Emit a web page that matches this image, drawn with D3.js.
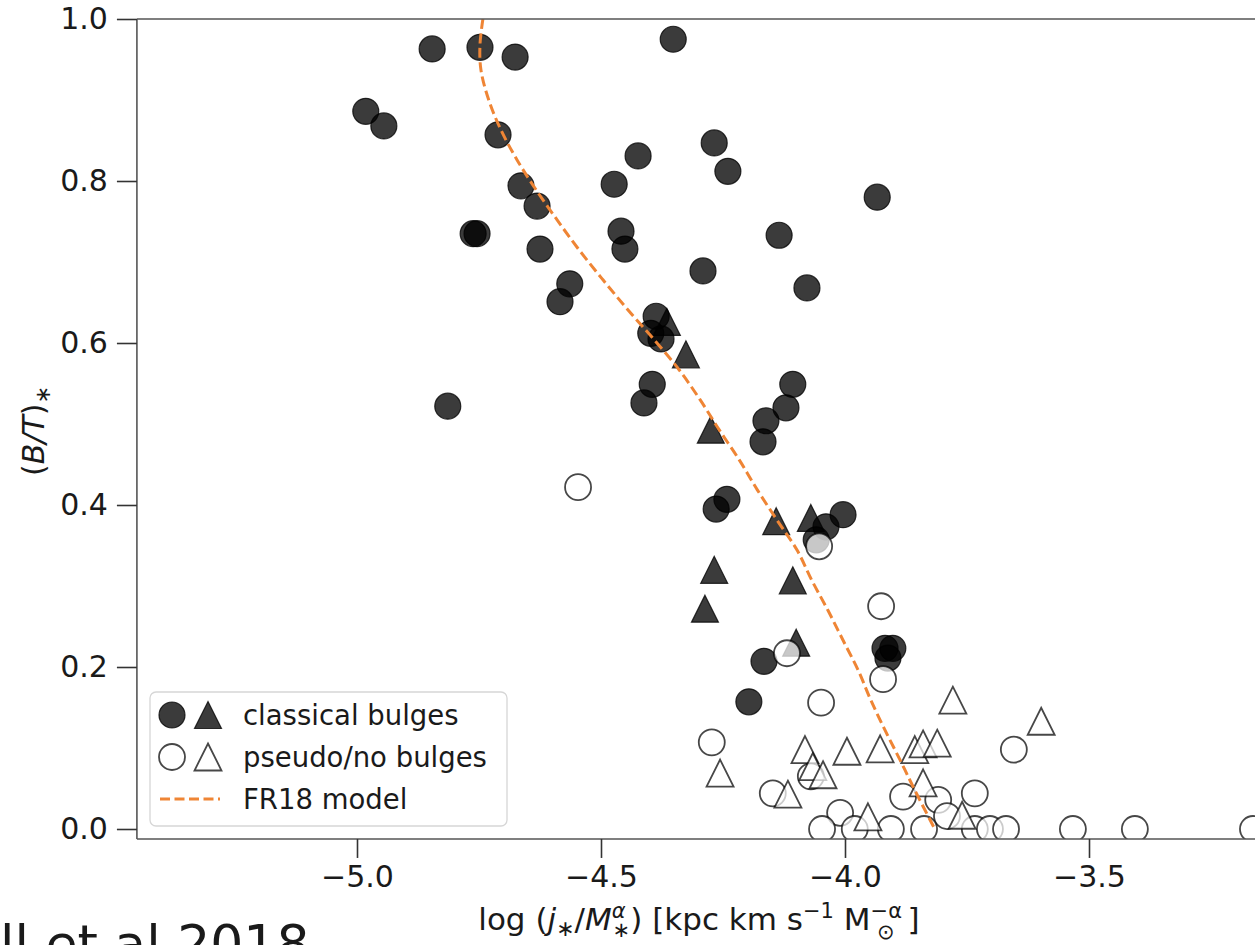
<!DOCTYPE html>
<html>
<head>
<meta charset="utf-8">
<script src="https://cdn.jsdelivr.net/npm/d3@7"></script>
<style>
  body { margin: 0; background: #fff; }
  svg { display: block; }
  text { font-family: "DejaVu Sans", sans-serif; fill: #1a1a1a; }
</style>
</head>
<body>
<svg id="chart" width="1255" height="945"></svg>
<script>
// classical bulges (filled)
const classicalCircX = [-4.982, -4.945, -4.846, -4.748, -4.676, -4.352, -4.711, -4.268, -4.424, -4.240,
  -4.473, -4.664, -4.631, -4.762, -4.754, -4.459, -4.451, -4.135, -4.625, -4.291,
  -4.564, -4.584, -4.078, -3.934, -4.814, -4.387, -4.398, -4.377, -4.395, -4.412,
  -4.107, -4.121, -4.162, -4.168, -4.242, -4.264, -4.004, -4.039, -4.059, -4.166,
  -3.918, -3.902, -3.912, -4.197];
const classicalCircY = [0.886, 0.868, 0.963, 0.965, 0.953, 0.975, 0.857, 0.847, 0.831, 0.812,
  0.796, 0.794, 0.769, 0.735, 0.735, 0.738, 0.716, 0.733, 0.716, 0.689,
  0.673, 0.651, 0.668, 0.780, 0.522, 0.633, 0.612, 0.605, 0.549, 0.526,
  0.549, 0.520, 0.504, 0.478, 0.407, 0.395, 0.388, 0.373, 0.357, 0.207,
  0.223, 0.223, 0.211, 0.157];
const classicalTriX = [-4.365, -4.326, -4.275, -4.141, -4.070, -4.268, -4.107, -4.287, -4.100];
const classicalTriY = [0.626, 0.586, 0.493, 0.380, 0.384, 0.320, 0.307, 0.272, 0.230];

// pseudo / no bulges (open)
const pseudoCircX = [-4.547, -3.926, -3.922, -4.049, -4.273, -3.654, -4.070, -4.148, -3.881, -3.809,
  -3.734, -4.010, -3.791, -4.119, -4.053, -4.047, -3.980, -3.906, -3.838, -3.734,
  -3.703, -3.670, -3.533, -3.406, -3.164];
const pseudoCircY = [0.422, 0.275, 0.185, 0.156, 0.107, 0.098, 0.065, 0.044, 0.040, 0.036,
  0.044, 0.020, 0.016, 0.217, 0.349, 0.0, 0.0, 0.0, 0.0, 0.0,
  0.0, 0.0, 0.0, 0.0, 0.0];
const pseudoTriX = [-4.256, -4.082, -3.996, -3.928, -3.857, -3.840, -3.811, -4.066, -4.045, -4.117,
  -3.840, -3.953, -3.760, -3.779, -3.598];
const pseudoTriY = [0.069, 0.098, 0.096, 0.099, 0.098, 0.105, 0.106, 0.077, 0.067, 0.043,
  0.057, 0.015, 0.017, 0.159, 0.133];

// FR18 model curve
const modelX = [-4.742, -4.748, -4.746, -4.730, -4.705, -4.672, -4.633, -4.590, -4.545, -4.496,
  -4.445, -4.391, -4.340, -4.297, -4.258, -4.217, -4.180, -4.139, -4.098, -4.068,
  -4.035, -4.004, -3.973, -3.947, -3.918, -3.887, -3.857, -3.816];
const modelY = [1.0, 0.968, 0.937, 0.900, 0.863, 0.826, 0.789, 0.752, 0.715, 0.678,
  0.641, 0.604, 0.567, 0.530, 0.493, 0.456, 0.419, 0.381, 0.344, 0.307,
  0.270, 0.233, 0.196, 0.159, 0.122, 0.085, 0.048, 0.0];

const xTicks = [-5.0, -4.5, -4.0, -3.5];
const yTicks = [0.0, 0.2, 0.4, 0.6, 0.8, 1.0];
const legendLabels = ["classical bulges", "pseudo/no bulges", "FR18 model"];

const svg = d3.select("#chart");
const W = 1255;

const x = d3.scaleLinear().domain([-5.0, -3.5]).range([357, 1089]);
const y = d3.scaleLinear().domain([0, 1]).range([829, 19]);
const xMin = -5.451, xMax = -3.0, yMin = -0.0123, yMax = 1.0;
const pLeft = x(xMin), pRight = x(xMax), pTop = y(yMax), pBottom = y(yMin);

svg.append("defs").append("clipPath").attr("id", "plotclip")
  .append("rect").attr("x", pLeft).attr("y", pTop)
  .attr("width", pRight - pLeft).attr("height", pBottom - pTop);

const tri = s => `M0,${-s}L${s},${s}L${-s},${s}Z`;
const R = 13, S = 13.5;

const plot = svg.append("g").attr("clip-path", "url(#plotclip)");

function filled(sel) {
  return sel.attr("fill", "#000").attr("fill-opacity", 0.77)
    .attr("stroke", "#000").attr("stroke-opacity", 0.77).attr("stroke-width", 1.2);
}
function open(sel) {
  return sel.attr("fill", "#fff").attr("fill-opacity", 0.72)
    .attr("stroke", "#000").attr("stroke-opacity", 0.72).attr("stroke-width", 1.8);
}

filled(plot.append("g").selectAll("circle").data(classicalCircX).join("circle")
  .attr("cx", d => x(d)).attr("cy", (d, i) => y(classicalCircY[i])).attr("r", R));
filled(plot.append("g").selectAll("path").data(classicalTriX).join("path")
  .attr("transform", (d, i) => `translate(${x(d)},${y(classicalTriY[i])})`).attr("d", tri(S)));
open(plot.append("g").selectAll("circle").data(pseudoCircX).join("circle")
  .attr("cx", d => x(d)).attr("cy", (d, i) => y(pseudoCircY[i])).attr("r", R));
open(plot.append("g").selectAll("path").data(pseudoTriX).join("path")
  .attr("transform", (d, i) => `translate(${x(d)},${y(pseudoTriY[i])})`).attr("d", tri(S)));

const line = d3.line().x(d => x(d[0])).y(d => y(d[1])).curve(d3.curveCatmullRom);
plot.append("path")
  .attr("d", line(modelX.map((v, i) => [v, modelY[i]])))
  .attr("fill", "none").attr("stroke", "#ef8535").attr("stroke-width", 3)
  .attr("stroke-dasharray", "10,4.5");

// spines
const spine = svg.append("g").attr("stroke", "#555").attr("stroke-width", 1.6).attr("fill", "none");
spine.append("line").attr("x1", pLeft).attr("x2", pLeft).attr("y1", pTop).attr("y2", pBottom);
spine.append("line").attr("x1", pLeft).attr("x2", W).attr("y1", pTop).attr("y2", pTop);
spine.append("line").attr("x1", pLeft).attr("x2", W).attr("y1", pBottom).attr("y2", pBottom);

// axes
const fmt = d3.format(".1f");
const xAxis = svg.append("g").attr("transform", `translate(0,${pBottom})`)
  .call(d3.axisBottom(x).tickValues(xTicks).tickSize(19).tickPadding(8).tickFormat(fmt));
const yAxis = svg.append("g").attr("transform", `translate(${pLeft},0)`)
  .call(d3.axisLeft(y).tickValues(yTicks).tickSize(20).tickPadding(9).tickFormat(fmt));
[xAxis, yAxis].forEach(a => {
  a.select(".domain").remove();
  a.selectAll(".tick line").attr("stroke", "#333").attr("stroke-width", 1.6);
  a.selectAll(".tick text").attr("font-size", 30).attr("font-family", "DejaVu Sans").attr("fill", "#1a1a1a");
});

// axis labels
const yl = svg.append("text").attr("transform", "translate(44,431) rotate(-90)")
  .attr("text-anchor", "middle").attr("font-size", 30);
yl.append("tspan").text("(");
yl.append("tspan").attr("font-style", "italic").text("B/T");
yl.append("tspan").text(")");
yl.append("tspan").attr("font-size", 21).attr("dy", 6).text("∗");

const xl = svg.append("text").attr("x", 699).attr("y", 930)
  .attr("text-anchor", "middle").attr("font-size", 31);
xl.append("tspan").text("log (");
xl.append("tspan").attr("font-style", "italic").text("j");
xl.append("tspan").attr("font-size", 22).attr("dy", 6).text("∗");
xl.append("tspan").attr("dy", -6).text("/");
xl.append("tspan").attr("font-style", "italic").text("M");
xl.append("tspan").attr("font-size", 21).attr("font-style", "italic").attr("dy", -12).text("α");
xl.append("tspan").attr("font-size", 21).attr("dx", -13).attr("dy", 19).text("∗");
xl.append("tspan").attr("dy", -7).text(") [kpc km s");
xl.append("tspan").attr("font-size", 21).attr("dy", -12).text("−1");
xl.append("tspan").attr("dy", 12).text(" M");
xl.append("tspan").attr("font-size", 21).attr("dy", -12).text("−α");
xl.append("tspan").attr("font-size", 21).attr("dx", -25).attr("dy", 21).text("⊙");
xl.append("tspan").attr("dx", 13).attr("dy", -9).text("]");

// legend
const lg = svg.append("g");
lg.append("rect").attr("x", 150).attr("y", 692).attr("width", 357).attr("height", 134).attr("rx", 6)
  .attr("fill", "#fff").attr("fill-opacity", 0.85).attr("stroke", "#d6d6d6").attr("stroke-width", 1.3);
const rowY = [715, 757, 799];
filled(lg.append("circle").attr("cx", 172).attr("cy", rowY[0]).attr("r", R));
filled(lg.append("path").attr("transform", `translate(208,${rowY[0]})`).attr("d", tri(S)));
open(lg.append("circle").attr("cx", 172).attr("cy", rowY[1]).attr("r", R));
open(lg.append("path").attr("transform", `translate(208,${rowY[1]})`).attr("d", tri(S)));
lg.append("line").attr("x1", 160).attr("x2", 220).attr("y1", rowY[2]).attr("y2", rowY[2])
  .attr("stroke", "#ef8535").attr("stroke-width", 3).attr("stroke-dasharray", "10,4.5");
lg.selectAll("text.lab").data(legendLabels).join("text").attr("class", "lab")
  .attr("x", 243).attr("y", (d, i) => rowY[i] + 10).attr("font-size", 27.5).text(d => d);

// cropped caption at bottom
svg.append("text").attr("x", 0).attr("y", 962).attr("font-size", 52)
  .attr("font-family", "Open Sans").attr("fill", "#222").text("ll et al 2018");
</script>
</body>
</html>
